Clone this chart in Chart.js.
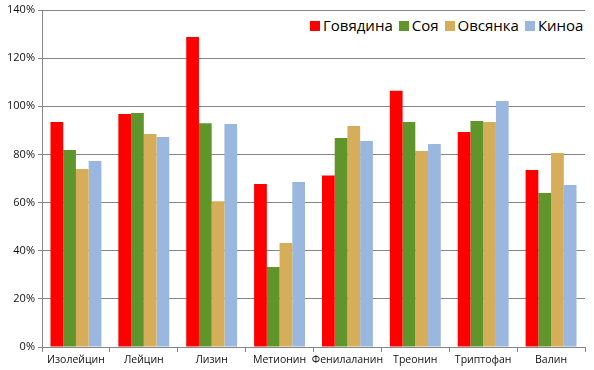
<!DOCTYPE html>
<html>
<head>
<meta charset="utf-8">
<script src="https://cdn.jsdelivr.net/npm/chart.js@4/dist/chart.umd.min.js"></script>
<style>
    html, body { margin: 0; padding: 0; background: #fff; }
    #wrap { position: relative; width: 594px; height: 370px; }
    #legend { position: absolute; top: 15px; left: 306px; background: #fff; padding: 0 4px;
        font-family: "Open Sans", "Noto Sans", sans-serif; font-size: 15px; color: #000; white-space: nowrap; }
    #legend span.item { margin-right: 6px; }
    #legend span.item:last-child { margin-right: 0; }
    #legend i { display: inline-block; width: 10px; height: 10px; margin-right: 3px; }
</style>
</head>
<body>
<div id="wrap">
    <canvas id="chart" width="594" height="370"></canvas>
    <div id="legend"></div>
</div>
<script>
var categories = ["Изолейцин", "Лейцин", "Лизин", "Метионин", "Фенилаланин", "Треонин", "Триптофан", "Валин"];
var seriesNames = ["Говядина", "Соя", "Овсянка", "Киноа"];
var beef = [93.5, 96.8, 128.8, 67.7, 71.2, 106.5, 89.3, 73.5];
var soy = [81.8, 97.2, 93.0, 33.2, 86.8, 93.5, 93.9, 64.0];
var oats = [73.9, 88.5, 60.6, 43.2, 91.8, 81.4, 93.5, 80.6];
var quinoa = [77.3, 87.2, 92.6, 68.5, 85.6, 84.3, 102.2, 67.3];
var yTicks = [0, 20, 40, 60, 80, 100, 120, 140];

var colors = ["#FF0000", "#5F952A", "#D6AE5A", "#9AB7DF"];
var axisColor = "#868686";
var values = [beef, soy, oats, quinoa];

var datasets = [];
for (var i = 0; i < seriesNames.length; i++) {
    datasets.push({
        label: seriesNames[i],
        data: values[i],
        backgroundColor: colors[i],
        borderWidth: 0,
        barPercentage: 1,
        categoryPercentage: 0.75
    });
}

var ctx = document.getElementById("chart").getContext("2d");
var chart = new Chart(ctx, {
    type: 'bar',
    data: {
        labels: categories,
        datasets: datasets
    },
    options: {
        responsive: false,
        animation: false,
        layout: { padding: { top: 10, right: 9, left: 0, bottom: 0 } },
        plugins: {
            legend: { display: false },
            tooltip: { enabled: false }
        },
        scales: {
            x: {
                offset: true,
                grid: {
                    offset: true,
                    drawOnChartArea: false,
                    color: axisColor,
                    tickColor: axisColor,
                    tickLength: 5
                },
                border: { color: axisColor },
                ticks: {
                    color: "#111",
                    font: { family: "Open Sans", size: 10.5 },
                    autoSkip: false,
                    maxRotation: 0,
                    padding: 2
                },
                afterFit: function (scale) { scale.height = 23; }
            },
            y: {
                min: 0,
                max: 140,
                afterBuildTicks: function (scale) {
                    scale.ticks = yTicks.map(function (v) { return { value: v }; });
                },
                grid: {
                    color: axisColor,
                    tickColor: axisColor,
                    tickLength: 4
                },
                border: { color: axisColor },
                ticks: {
                    color: "#111",
                    font: { family: "Open Sans", size: 11 },
                    padding: 3,
                    callback: function (v) { return v + '%'; }
                },
                afterFit: function (scale) { scale.width = 42; }
            }
        }
    }
});

// html legend
var html = '';
chart.data.datasets.forEach(function (ds) {
    html += '<span class="item"><i style="background:' + ds.backgroundColor + '"></i>' + ds.label + '</span>';
});
document.getElementById("legend").innerHTML = html;
</script>
</body>
</html>
